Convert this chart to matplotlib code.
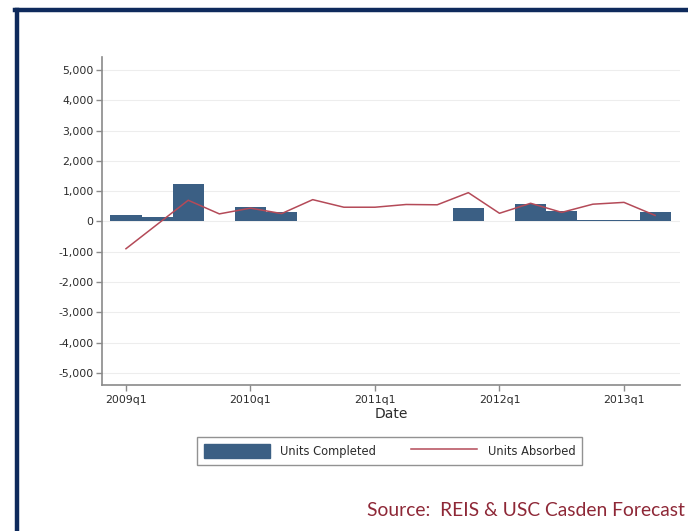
import matplotlib
matplotlib.use("Agg")
import matplotlib.pyplot as plt
from matplotlib.lines import Line2D
from matplotlib.patches import Patch

# quarterly data, 2009q1 - 2013q2
quarters = ["2009q1", "2009q2", "2009q3", "2009q4",
            "2010q1", "2010q2", "2010q3", "2010q4",
            "2011q1", "2011q2", "2011q3", "2011q4",
            "2012q1", "2012q2", "2012q3", "2012q4",
            "2013q1", "2013q2"]
units_completed = [220, 140, 1240, 0,
                   480, 300, 0, 0,
                   0, 0, 0, 430,
                   0, 570, 330, 60,
                   60, 300]
units_absorbed = [-900, -100, 700, 250,
                  440, 260, 720, 470,
                  470, 560, 550, 950,
                  270, 600, 300, 570,
                  630, 200]

year_ticks = [0, 4, 8, 12, 16]
year_labels = ["2009q1", "2010q1", "2011q1", "2012q1", "2013q1"]
y_ticks = list(range(-5000, 5001, 1000))

BAR_COLOR = "#3b5f84"
LINE_COLOR = "#b44a58"
TEXT_COLOR = "#2b2b2b"
AXIS_COLOR = "#8a8a8a"
FRAME_COLOR = "#0e2a5c"
SOURCE_COLOR = "#8e2837"

plt.rcParams["font.family"] = ["DejaVu Sans"]

fig = plt.figure(figsize=(6.88, 5.31), dpi=100)
fig.patch.set_facecolor("white")

# navy frame (top and left edges)
fig.add_artist(Line2D([15.5 / 688, 1.0], [1 - 10 / 531, 1 - 10 / 531],
                      color=FRAME_COLOR, lw=3.2, solid_capstyle="projecting"))
fig.add_artist(Line2D([17 / 688, 17 / 688], [0.0, 1 - 10 / 531],
                      color=FRAME_COLOR, lw=3.2, solid_capstyle="projecting"))

ax = fig.add_axes([102 / 688, 1 - 385 / 531, 578 / 688, 328 / 531])

x = list(range(len(quarters)))
ax.bar(x, units_completed, width=1.0, color=BAR_COLOR, linewidth=0, zorder=2)
ax.plot(x, units_absorbed, color=LINE_COLOR, lw=1.1, zorder=3)

ax.set_xlim(-0.77, 17.8)
ax.set_ylim(-5400, 5430)

ax.set_yticks(y_ticks)
ax.set_yticklabels([f"{v:,}" for v in y_ticks])
ax.set_xticks(year_ticks)
ax.set_xticklabels(year_labels)

ax.grid(axis="y", color="#ededed", lw=0.8, zorder=0)
ax.set_axisbelow(True)

for side in ["top", "right"]:
    ax.spines[side].set_visible(False)
for side in ["left", "bottom"]:
    ax.spines[side].set_color(AXIS_COLOR)
    ax.spines[side].set_linewidth(1.2)

ax.tick_params(axis="both", colors=AXIS_COLOR, labelcolor=TEXT_COLOR,
               labelsize=7.8, length=4, width=1, direction="out")
ax.tick_params(axis="y", pad=2)
ax.tick_params(axis="x", pad=3)

ax.set_xlabel("Date", fontsize=10, color=TEXT_COLOR, labelpad=2)

handles = [Patch(facecolor=BAR_COLOR, edgecolor=BAR_COLOR),
           Line2D([0], [0], color=LINE_COLOR, lw=1.1)]
leg = fig.legend(handles, ["Units Completed", "Units Absorbed"],
                 loc="center", bbox_to_anchor=(389.5 / 688, 1 - 451 / 531),
                 ncol=2, fontsize=8.3, frameon=True, fancybox=False,
                 handlelength=5.7, handleheight=1.45, columnspacing=3.0,
                 handletextpad=0.95, borderpad=0.6, borderaxespad=0,
                 edgecolor="#777777")
leg.get_frame().set_linewidth(1.0)
for t in leg.get_texts():
    t.set_color(TEXT_COLOR)

fig.text(685 / 688, 1 - 511 / 531, "Source:  REIS & USC Casden Forecast",
         ha="right", va="center", fontsize=13.9, color=SOURCE_COLOR,
         family=["Lato", "DejaVu Sans"])

fig.savefig("out.png", dpi=100)
